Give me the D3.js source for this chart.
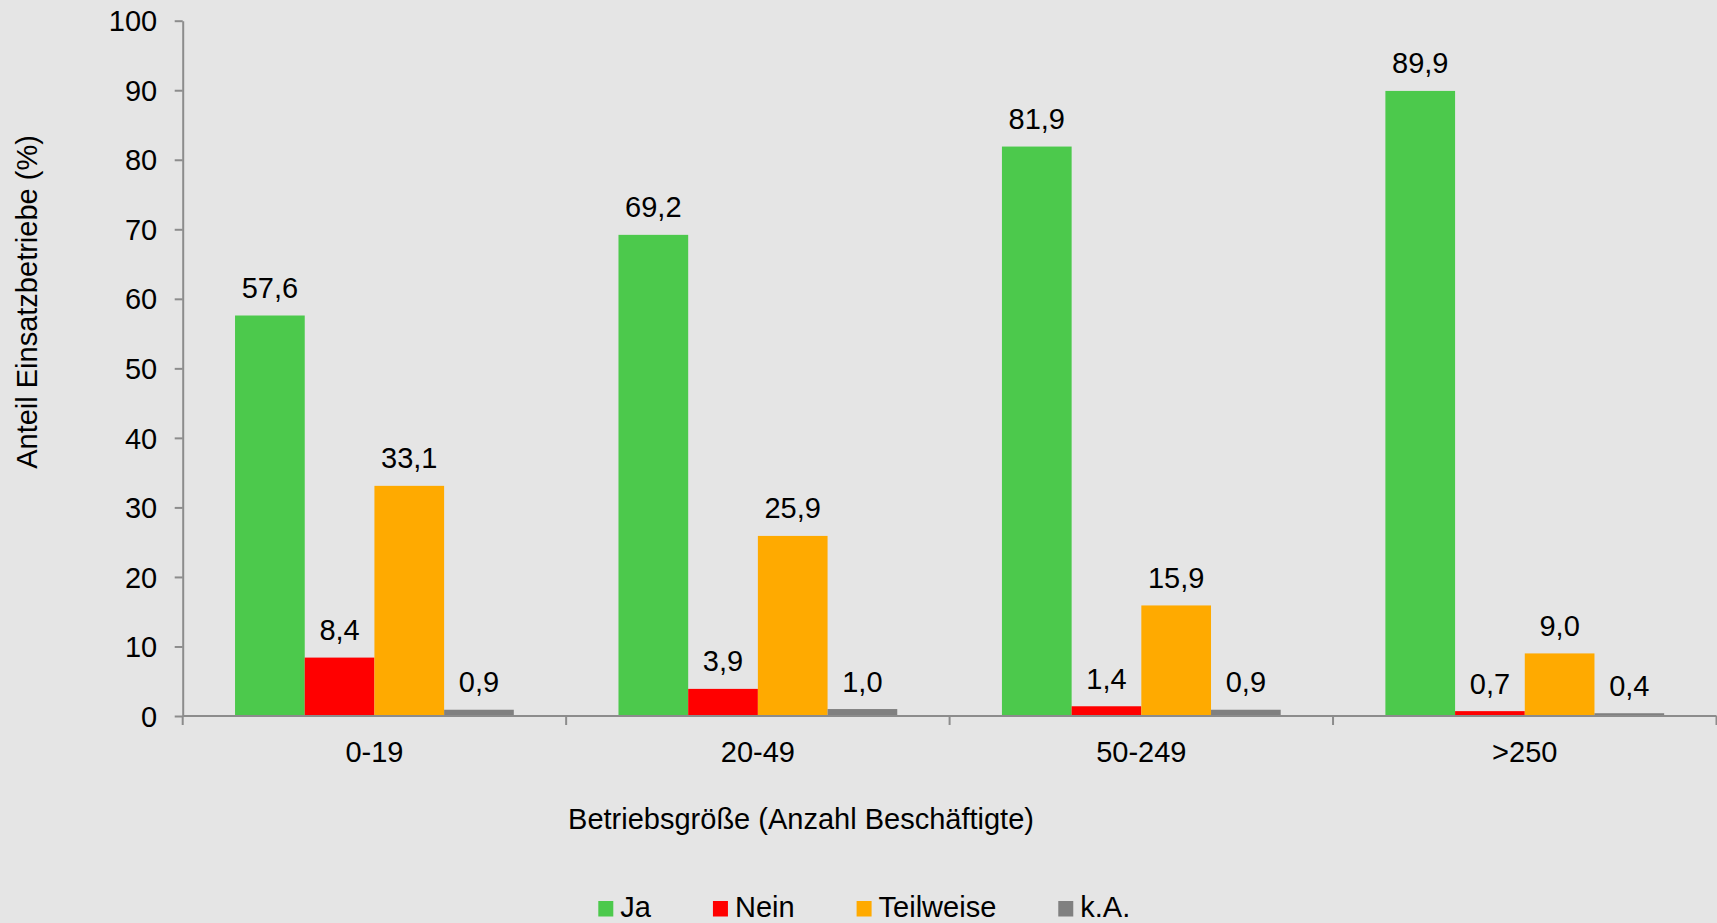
<!DOCTYPE html>
<html>
<head>
<meta charset="utf-8">
<script src="https://cdn.jsdelivr.net/npm/d3@7"></script>
<style>
  body { margin: 0; background: #e5e5e5; }
  svg { display: block; font-family: "Liberation Sans", Arial, sans-serif; }
  .axis path, .axis line { stroke: #8c8c8c; stroke-width: 2; }
  .axis text { font-size: 29px; fill: #000; font-family: "Liberation Sans", Arial, sans-serif; }
</style>
</head>
<body>
<div id="chart"></div>
<script>
    // data
    var categories = ["0-19", "20-49", "50-249", ">250"];
    var seriesNames = ["Ja", "Nein", "Teilweise", "k.A."];
    var seriesColors = ["#4cc94c", "#ff0000", "#ffaa00", "#808080"];
    var ja = [57.6, 69.2, 81.9, 89.9];
    var nein = [8.4, 3.9, 1.4, 0.7];
    var teilweise = [33.1, 25.9, 15.9, 9.0];
    var ka = [0.9, 1.0, 0.9, 0.4];
    var yTicks = [0, 10, 20, 30, 40, 50, 60, 70, 80, 90, 100];

    var series = [ja, nein, teilweise, ka];
    var FS = "29px";

    var W = 1717, H = 923;
    var margin = { top: 20.7, right: 0.5, bottom: 207, left: 182.7 },
        width = W - margin.left - margin.right,
        height = H - margin.top - margin.bottom;

    var svg = d3.select("#chart").append("svg")
        .attr("width", W)
        .attr("height", H);

    svg.append("rect").attr("width", W).attr("height", H).attr("fill", "#e5e5e5");

    var g = svg.append("g")
        .attr("transform", "translate(" + margin.left + "," + margin.top + ")");

    var x0 = d3.scaleBand()
        .domain(categories)
        .range([0, width])
        .paddingInner(0.273)
        .paddingOuter(0.1365);

    var x1 = d3.scaleBand()
        .domain(seriesNames)
        .range([0, x0.bandwidth()])
        .padding(0);

    var y = d3.scaleLinear().domain([0, 100]).range([height, 0]);

    function fmt(v) { return v.toFixed(1).replace(".", ","); }

    // bars
    var rows = categories.map(function(c, i) {
        return { cat: c, vals: seriesNames.map(function(s, j) { return { key: s, value: series[j][i], color: seriesColors[j] }; }) };
    });

    var grp = g.selectAll(".grp").data(rows).enter().append("g")
        .attr("transform", function(d) { return "translate(" + x0(d.cat) + ",0)"; });

    grp.selectAll("rect").data(function(d) { return d.vals; }).enter().append("rect")
        .attr("x", function(d) { return x1(d.key); })
        .attr("y", function(d) { return y(d.value); })
        .attr("width", x1.bandwidth())
        .attr("height", function(d) { return height - y(d.value); })
        .attr("fill", function(d) { return d.color; });

    grp.selectAll("text").data(function(d) { return d.vals; }).enter().append("text")
        .attr("x", function(d) { return x1(d.key) + x1.bandwidth() / 2; })
        .attr("y", function(d) { return y(d.value) - 17.5; })
        .attr("text-anchor", "middle")
        .style("font-size", FS)
        .text(function(d) { return fmt(d.value); });

    // y axis
    g.append("g")
        .attr("class", "axis")
        .call(d3.axisLeft(y).tickValues(yTicks).tickSize(8).tickPadding(17.5).tickSizeOuter(0))
        .selectAll("text").attr("dy", "0.35em");

    // x axis: line, boundary ticks, labels
    var xa = g.append("g").attr("class", "axis")
        .attr("transform", "translate(0," + height + ")");
    xa.append("line").attr("x1", 0).attr("x2", width).attr("y1", 0).attr("y2", 0);
    var bounds = d3.range(categories.length + 1).map(function(i) { return i * x0.step(); });
    xa.selectAll(".bt").data(bounds).enter().append("line")
        .attr("x1", function(d) { return d; }).attr("x2", function(d) { return d; })
        .attr("y1", 0).attr("y2", 9);
    xa.selectAll(".cl").data(categories).enter().append("text")
        .attr("x", function(d) { return x0(d) + x0.bandwidth() / 2; })
        .attr("y", 46)
        .attr("text-anchor", "middle")
        .text(function(d) { return d; });

    // axis titles
    svg.append("text")
        .attr("x", 801).attr("y", 828.5)
        .attr("text-anchor", "middle")
        .style("font-size", FS)
        .text("Betriebsgröße (Anzahl Beschäftigte)");

    svg.append("text")
        .attr("transform", "translate(37,302) rotate(-90)")
        .attr("text-anchor", "middle")
        .style("font-size", FS)
        .text("Anteil Einsatzbetriebe (%)");

    // legend
    var legend = svg.append("g").attr("transform", "translate(598.3,901)");
    var lx = 0;
    seriesNames.forEach(function(s, i) {
        var item = legend.append("g").attr("transform", "translate(" + lx + ",0)");
        item.append("rect").attr("width", 15).attr("height", 15.5).attr("fill", seriesColors[i]);
        var t = item.append("text").attr("x", 22).attr("y", 16)
            .style("font-size", FS).text(s);
        lx += 22 + t.node().getComputedTextLength() + 62;
    });
</script>
</body>
</html>
